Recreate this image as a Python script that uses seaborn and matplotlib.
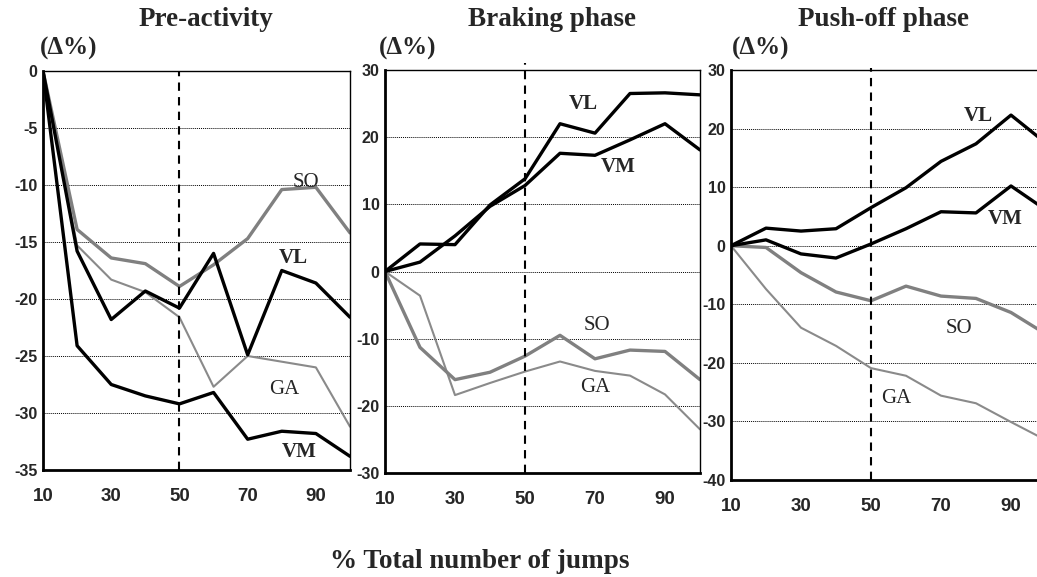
import matplotlib
matplotlib.use("Agg")
import matplotlib.pyplot as plt
import seaborn as sns
import pandas as pd

# % of total jumps
jumps = [10, 20, 30, 40, 50, 60, 70, 80, 90, 100]

# Pre-activity (delta %)
pre_vl = [0, -15.8, -21.8, -19.3, -20.8, -16.0, -24.9, -17.5, -18.6, -21.6]
pre_vm = [0, -24.1, -27.5, -28.5, -29.2, -28.2, -32.3, -31.6, -31.8, -33.8]
pre_so = [0, -13.9, -16.4, -16.9, -18.9, -17.0, -14.7, -10.4, -10.2, -14.2]
pre_ga = [0, -15.3, -18.3, -19.4, -21.6, -27.7, -25.0, -25.5, -26.0, -31.2]

# Braking phase
brk_vl = [0, 4.1, 4.0, 9.9, 13.8, 22.0, 20.6, 26.5, 26.6, 26.3]
brk_vm = [0, 1.4, 5.3, 9.7, 12.8, 17.6, 17.3, 19.6, 22.0, 18.1]
brk_so = [0, -11.3, -16.1, -15.0, -12.6, -9.5, -13.0, -11.7, -11.9, -16.1]
brk_ga = [0, -3.6, -18.4, -16.6, -14.9, -13.4, -14.8, -15.5, -18.3, -23.5]

# Push-off phase
push_vl = [0, 3.0, 2.5, 2.9, 6.5, 9.9, 14.4, 17.4, 22.3, 17.5]
push_vm = [0, 1.0, -1.4, -2.1, 0.3, 2.9, 5.8, 5.6, 10.2, 6.1]
push_so = [0, -0.3, -4.6, -7.9, -9.4, -6.9, -8.6, -9.0, -11.4, -15.1]
push_ga = [0, -7.4, -14.0, -17.1, -20.9, -22.2, -25.6, -26.9, -30.1, -33.2]

titles = ["Pre-activity", "Braking phase", "Push-off phase"]
muscles = ["VL", "VM", "SO", "GA"]

sns.set_style("white")
plt.rcParams["font.family"] = ["Liberation Sans", "DejaVu Sans"]
plt.rcParams["axes.unicode_minus"] = False

W, H = 1037, 577
fig = plt.figure(figsize=(W / 100, H / 100), dpi=100)


def px_axes(left, top, width, bottom):
    return fig.add_axes([left / W, 1 - bottom / H, width / W, (bottom - top) / H])


panels = [
    dict(data=[pre_vl, pre_vm, pre_so, pre_ga], ylim=(-35, 0), yticks=range(-35, 1, 5),
         box=(43, 71, 307, 470), title_x=206, unit_x=40, dash_top=1.0,
         labels={"SO": (87, -9.8), "VL": (83.5, -16.4), "GA": (80.6, -27.9), "VM": (85, -33.4)}),
    dict(data=[brk_vl, brk_vm, brk_so, brk_ga], ylim=(-30, 30), yticks=range(-30, 31, 10),
         box=(385, 70, 315, 473), title_x=552, unit_x=379, dash_top=1.017,
         labels={"VL": (66.6, 25.0), "VM": (76.6, 15.6), "SO": (70.6, -8.1), "GA": (70, -17.2)}),
    dict(data=[push_vl, push_vm, push_so, push_ga], ylim=(-40, 30), yticks=range(-40, 31, 10),
         box=(731, 70, 315, 480), title_x=883, unit_x=732, dash_top=1.005,
         labels={"VL": (80.6, 22.2), "VM": (88.3, 4.6), "SO": (75.1, -14.2), "GA": (57.1, -26.1)}),
]

styles = {"VL": ("black", 2.4), "VM": ("black", 2.4), "SO": ("#808080", 2.4), "GA": ("#8a8a8a", 1.5)}

for p, title in zip(panels, titles):
    ax = px_axes(*p["box"])
    df = pd.DataFrame({"pct": jumps * 4,
                       "delta": sum(p["data"], []),
                       "muscle": [m for m in muscles for _ in jumps]})
    for m in ["GA", "SO", "VM", "VL"]:
        color, lw = styles[m]
        sns.lineplot(data=df[df["muscle"] == m], x="pct", y="delta", color=color,
                     linewidth=lw, ax=ax, legend=False)
    ax.axvline(50, ymax=p["dash_top"], color="black", linestyle=(0, (4, 3)),
               linewidth=1.5, clip_on=False)
    ax.set_xlim(10, 100)
    ax.set_ylim(*p["ylim"])
    ax.set_yticks(list(p["yticks"]))
    ax.set_xticks(jumps)
    ax.set_xticklabels([str(v) if v in (10, 30, 50, 70, 90) else "" for v in jumps])
    ax.tick_params(axis="x", direction="in", length=4, width=1, labelsize=13.5, pad=13)
    ax.tick_params(axis="y", length=0, labelsize=11.5, pad=4)
    for lab in ax.get_xticklabels() + ax.get_yticklabels():
        lab.set_fontweight("bold")
    ax.yaxis.grid(True, linestyle=(0, (1, 1)), color="black", linewidth=0.7)
    ax.set_axisbelow(True)
    ax.set_xlabel("")
    ax.set_ylabel("")
    for s in ax.spines.values():
        s.set_color("black")
        s.set_linewidth(1.0)
    ax.spines["bottom"].set_linewidth(2.0)
    ax.spines["left"].set_linewidth(2.0)
    for name, (x, y) in p["labels"].items():
        bold = name in ("VL", "VM")
        ax.text(x, y, name, ha="center", va="center", fontsize=15,
                family="Liberation Serif", fontweight="bold" if bold else "normal")
    fig.text(p["title_x"] / W, 1 - 20 / H, title, ha="center", va="center",
             fontsize=19.5, fontweight="bold", family="Liberation Serif")
    fig.text(p["unit_x"] / W, 1 - 48 / H, "(\u0394%)", ha="left", va="center",
             fontsize=18, fontweight="bold", family="Liberation Serif")

fig.text(480 / W, 1 - 562 / H, "% Total number of jumps", ha="center", va="center",
         fontsize=19.5, fontweight="bold", family="Liberation Serif")

fig.savefig("out.png", dpi=100)
